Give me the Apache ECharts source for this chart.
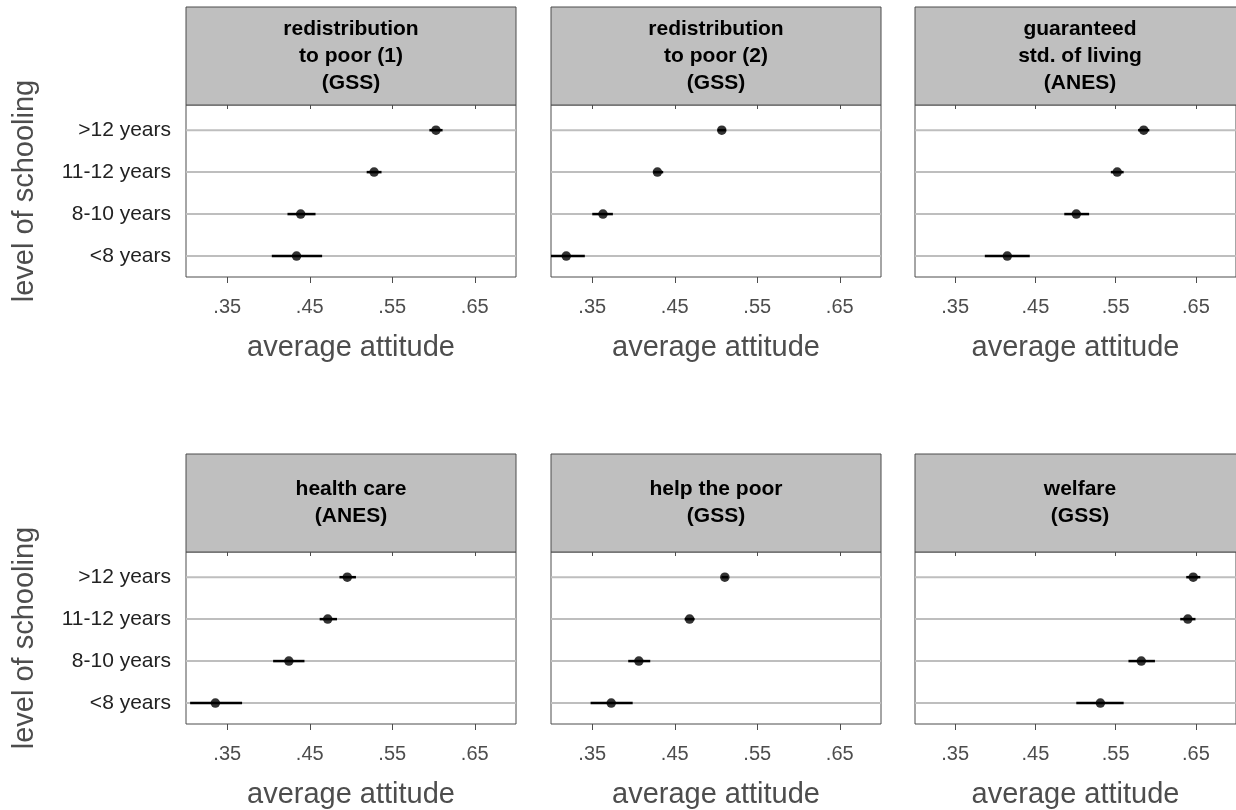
<!DOCTYPE html>
<html>
<head>
<meta charset="utf-8">
<script src="https://cdn.jsdelivr.net/npm/echarts@6/dist/echarts.min.js"></script>
<style>
  html, body { margin: 0; padding: 0; background: #fff; }
  #chart { width: 1236px; height: 810px; }
</style>
</head>
<body>
<div id="chart"></div>
<script>
// categories, bottom to top (y = 1..4)
const schooling = ['<8 years', '8-10 years', '11-12 years', '>12 years']
const panelTitles = [
  'redistribution\nto poor (1)\n(GSS)',
  'redistribution\nto poor (2)\n(GSS)',
  'guaranteed\nstd. of living\n(ANES)',
  'health care\n(ANES)',
  'help the poor\n(GSS)',
  'welfare\n(GSS)'
]
const xTicks = [0.35, 0.45, 0.55, 0.65]

// average attitude per panel (<8, 8-10, 11-12, >12)
const means = [
  [0.434, 0.439, 0.528, 0.603],
  [0.3185, 0.363, 0.429, 0.507],
  [0.415, 0.501, 0.552, 0.585],
  [0.3356, 0.4247, 0.4718, 0.4955],
  [0.373, 0.4065, 0.468, 0.5107],
  [0.531, 0.582, 0.640, 0.6467]
]
const lower = [
  [0.404, 0.423, 0.519, 0.595],
  [0.296, 0.350, 0.424, 0.502],
  [0.387, 0.486, 0.544, 0.578],
  [0.305, 0.4056, 0.462, 0.486],
  [0.348, 0.3936, 0.462, 0.5067],
  [0.501, 0.566, 0.6305, 0.638]
]
const upper = [
  [0.465, 0.457, 0.537, 0.611],
  [0.341, 0.375, 0.436, 0.512],
  [0.443, 0.517, 0.560, 0.592],
  [0.368, 0.4436, 0.483, 0.506],
  [0.399, 0.4203, 0.474, 0.5147],
  [0.560, 0.599, 0.6495, 0.6555]
]

const chart = echarts.init(document.getElementById('chart'))
const FONT = '"Liberation Sans", Arial, sans-serif'

const lefts = [186, 551, 915]
const tops = [105, 552]
const W = 330, H = 172, HEAD = 98

const grids = [], xAxes = [], yAxes = [], series = [], graphics = []

for (let p = 0; p < 6; p++) {
  const col = p % 3, row = Math.floor(p / 3)
  const left = lefts[col], top = tops[row]
  grids.push({
    left: left, top: top, width: W, height: H,
    show: true, borderColor: '#4d4d4d', borderWidth: 1, backgroundColor: '#fff'
  })
  // bottom axis
  xAxes.push({
    gridIndex: p, type: 'value', min: 0.3, max: 0.7, position: 'bottom',
    axisLine: { show: false },
    axisTick: { show: true, customValues: xTicks, length: 6, lineStyle: { color: '#4d4d4d' } },
    axisLabel: {
      customValues: xTicks, margin: 20, fontSize: 20, color: '#4d4d4d', fontFamily: FONT,
      formatter: v => v.toFixed(2).replace(/^0/, '')
    },
    splitLine: { show: false },
    name: 'average attitude', nameLocation: 'middle', nameGap: 56,
    nameTextStyle: { fontSize: 29, color: '#4d4d4d', fontFamily: FONT }
  })
  // top axis, ticks only
  xAxes.push({
    gridIndex: p, type: 'value', min: 0.3, max: 0.7, position: 'top',
    axisLine: { show: false },
    axisTick: { show: true, inside: true, customValues: xTicks, length: 4, lineStyle: { color: '#4d4d4d' } },
    axisLabel: { show: false },
    splitLine: { show: false }
  })
  const yAx = {
    gridIndex: p, type: 'value', min: 0.5, max: 4.6,
    axisLine: { show: false },
    axisTick: { show: false },
    splitLine: { show: false },
    axisLabel: { show: false }
  }
  if (col === 0) {
    yAx.axisLabel = {
      show: true, customValues: [1, 2, 3, 4], margin: 15, fontSize: 21, color: '#222', fontFamily: FONT,
      formatter: v => schooling[Math.round(v) - 1]
    }
    yAx.name = 'level of schooling'
    yAx.nameLocation = 'middle'
    yAx.nameGap = 147
    yAx.nameRotate = 90
    yAx.nameTextStyle = { fontSize: 29, color: '#4d4d4d', fontFamily: FONT }
  }
  yAxes.push(yAx)

  const pts = means[p].map((m, i) => [m, i + 1])
  const bars = means[p].map((m, i) => [lower[p][i], upper[p][i], i + 1])

  // horizontal reference lines
  series.push({
    type: 'custom', xAxisIndex: 2 * p, yAxisIndex: p, z: 1, silent: true,
    data: schooling.map((s, i) => [0.5, i + 1]),
    renderItem: (params, api) => {
      const cs = params.coordSys
      const y = api.coord([0.5, api.value(1)])[1]
      return {
        type: 'line',
        shape: { x1: cs.x, y1: y, x2: cs.x + cs.width, y2: y },
        style: { stroke: '#bebebe', lineWidth: 2 }
      }
    }
  })
  // error bars
  series.push({
    type: 'custom', xAxisIndex: 2 * p, yAxisIndex: p, z: 2, clip: true, silent: true,
    data: bars,
    renderItem: (params, api) => {
      const a = api.coord([api.value(0), api.value(2)])
      const b = api.coord([api.value(1), api.value(2)])
      return {
        type: 'line',
        shape: { x1: a[0], y1: a[1], x2: b[0], y2: b[1] },
        style: { stroke: '#000', lineWidth: 2.5 }
      }
    }
  })
  // point estimates
  series.push({
    type: 'scatter', xAxisIndex: 2 * p, yAxisIndex: p, z: 3, silent: true,
    symbol: 'circle', symbolSize: 9.5,
    itemStyle: { color: '#000' },
    data: pts
  })

  // strip header
  graphics.push({
    type: 'rect', z: 10,
    shape: { x: left, y: top - HEAD, width: W, height: HEAD },
    style: { fill: '#bfbfbf', stroke: '#4d4d4d', lineWidth: 1 }
  })
  graphics.push({
    type: 'text', z: 11,
    x: left + W / 2, y: top - HEAD / 2,
    style: {
      text: panelTitles[p], font: 'bold 21px ' + FONT, fill: '#000',
      align: 'center', verticalAlign: 'middle', lineHeight: 27
    }
  })
}

chart.setOption({
  animation: false,
  grid: grids,
  xAxis: xAxes,
  yAxis: yAxes,
  series: series,
  graphic: graphics
})
</script>
</body>
</html>
